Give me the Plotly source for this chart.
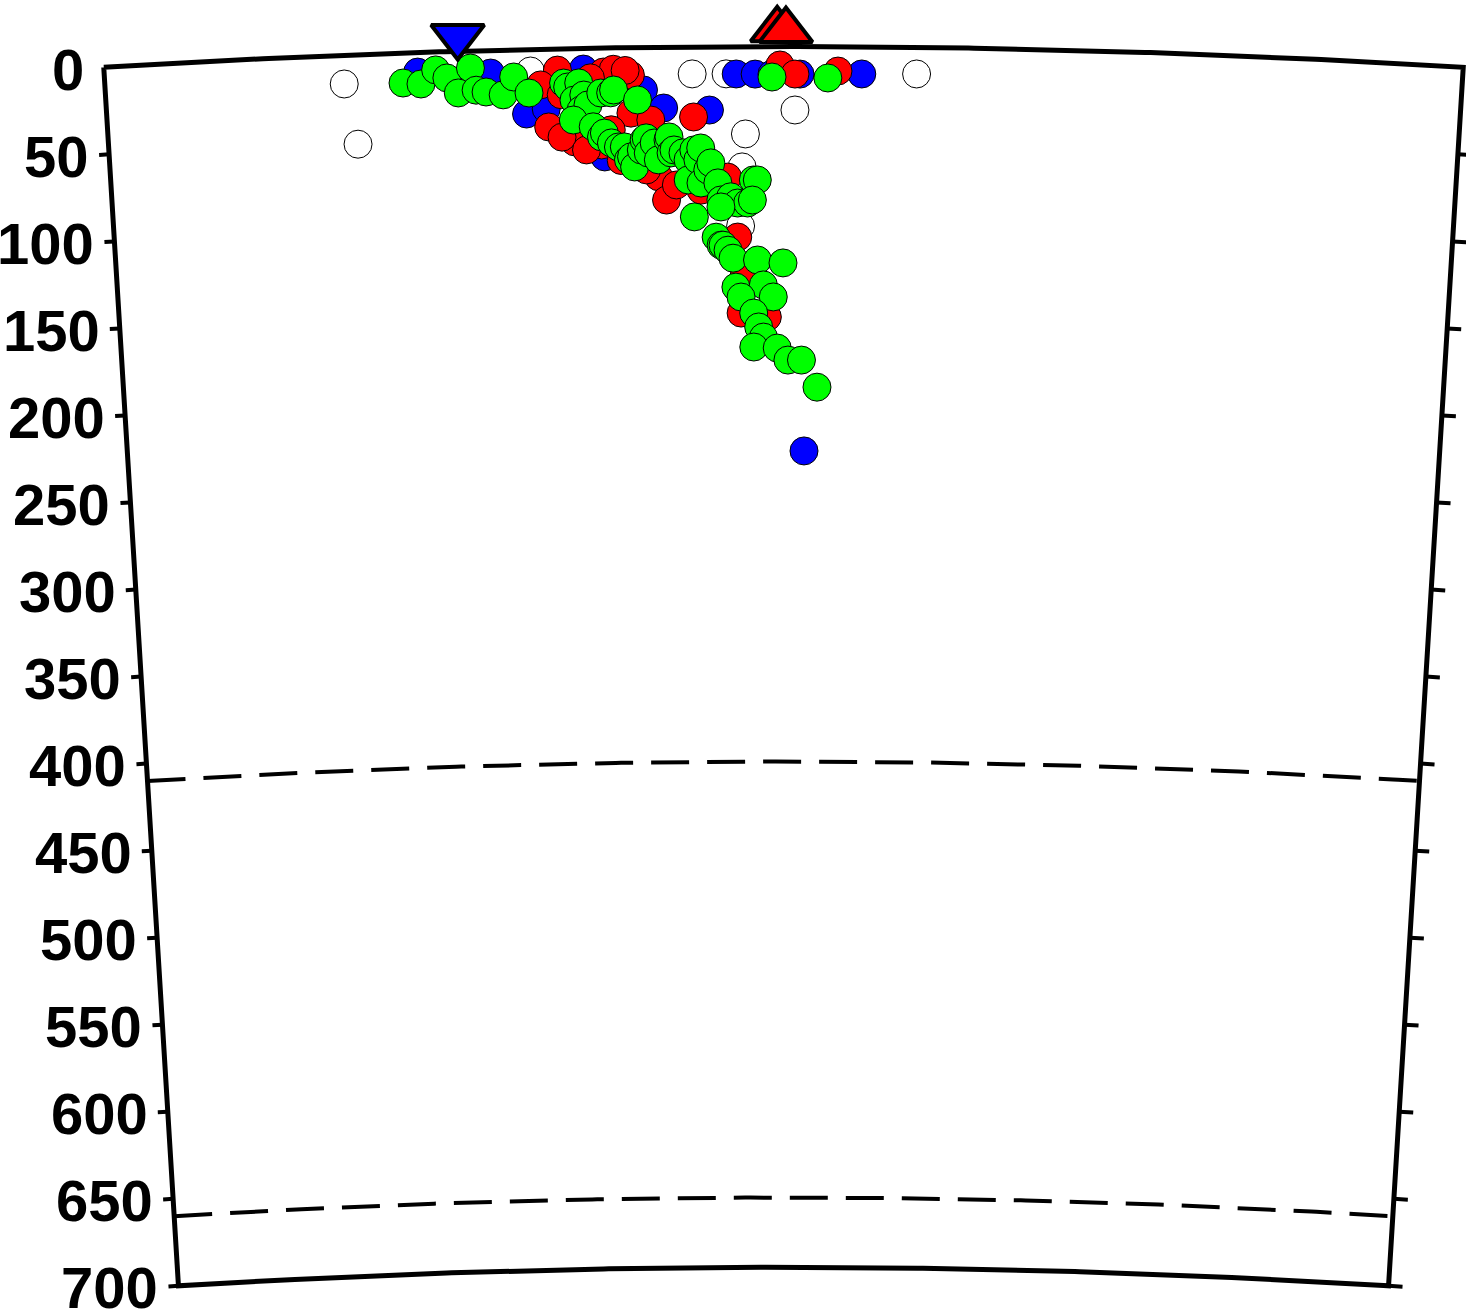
import numpy as np
import plotly.graph_objects as go

# ---------------- data ----------------
R_EARTH = 6371.0          # km
PROFILE_KM = 780.0        # length of section along surface (km)
MAX_DEPTH = 700.0         # km

depth_ticks = [0, 50, 100, 150, 200, 250, 300, 350, 400, 450, 500, 550, 600, 650, 700]
tick_labels = [str(d) for d in depth_ticks]
discontinuities = [410, 660]

white_dist = [137.4, 144.0, 244.6, 337.5, 357.0, 466.5, 396.6, 368.0, 366.0, 365.0]
white_depth = [16.5, 51.3, 12.4, 15.5, 15.6, 15.3, 36.4, 50.1, 69.0, 102.9]

blue_dist = [179.8, 221.7, 241.8, 253.2, 275.0, 286.5, 309.4, 320.9, 347.3, 362.8,
             373.7, 383.4, 399.5, 435.0, 402.2]
blue_depth = [11.2, 13.0, 37.0, 34.3, 11.9, 62.5, 24.4, 34.9, 36.3, 15.7,
              15.8, 15.8, 15.8, 15.6, 231.9]

red_dist = [260.1, 250.3, 254.4, 269.3, 284.8, 286.5, 292.2, 302.0, 302.0, 313.4,
            306.0, 317.5, 322.0, 338.1, 357.6, 388.0, 396.6, 421.3, 363.3, 366.8,
            380.5, 365.1, 279.0, 262.0, 276.0, 296.0, 310.6, 290.5, 327.8, 342.1,
            262.0, 299.0]
red_depth = [12.2, 20.5, 44.7, 53.6, 55.6, 13.8, 12.3, 15.8, 37.6, 41.7,
             68.5, 74.3, 87.7, 40.2, 74.8, 10.6, 15.8, 14.0, 109.2, 132.1,
             155.1, 152.8, 17.0, 50.7, 58.3, 64.7, 70.3, 47.0, 79.1, 82.2,
             26.4, 13.1]

green_dist = [171.2, 181.5, 190.2, 196.5, 202.8, 210.2, 213.1, 218.8, 228.6, 234.9,
              243.5, 263.5, 265.8, 272.2, 269.3, 275.0, 273.3, 277.3, 268.7, 284.8,
              290.5, 292.2, 305.9, 280.1, 284.8, 286.5, 290.5, 294.5, 297.9, 300.2,
              302.0, 303.7, 307.7, 309.4, 310.6, 311.7, 315.2, 317.5, 323.2, 323.8,
              324.9, 326.6, 331.8, 334.7, 334.7, 338.1, 340.4, 342.1, 342.1, 346.1,
              347.9, 351.9, 353.6, 359.3, 363.3, 369.1, 372.5, 374.8, 371.9, 338.1,
              350.7, 353.6, 354.7, 357.6, 360.5, 374.8, 389.7, 362.1, 378.2, 365.1,
              384.0, 372.5, 375.4, 378.2, 372.5, 386.3, 392.6, 400.6, 409.8, 383.4,
              415.5, 353.6]
green_depth = [17.2, 18.1, 10.3, 15.1, 23.9, 9.8, 22.6, 23.8, 25.7, 15.6,
               25.0, 19.7, 22.0, 19.8, 29.6, 26.8, 35.3, 32.5, 41.0, 25.8,
               25.8, 24.2, 30.1, 45.1, 51.0, 48.8, 54.5, 56.9, 56.9, 64.3,
               62.6, 68.5, 58.8, 53.1, 51.9, 60.6, 54.9, 64.6, 53.2, 51.5,
               60.7, 59.0, 60.7, 64.8, 76.3, 59.1, 64.8, 58.0, 78.1, 70.6,
               66.6, 78.1, 87.9, 86.1, 89.7, 89.7, 76.5, 76.5, 88.0, 97.5,
               109.2, 113.8, 113.8, 116.7, 121.3, 122.4, 124.1, 137.9, 136.7, 143.6,
               143.6, 152.8, 160.8, 166.6, 172.3, 172.9, 179.8, 179.8, 195.3, 17.5,
               18.0, 91.9]

station_blue_dist = [203.4]
station_blue_depth = [-8.5]
station_red_dist = [386.4, 391.4]
station_red_depth = [-9.6, -9.2]

# ---------------- layout constants ----------------
W, H = 1466, 1314
PX_PER_KM = 1.744
CX_PX, TOP_PX = 783.5, 46.5
TICK_LEFT_PX = 10
TICK_RIGHT_PX = 14


def proj(dist, depth):
    dist = np.asarray(dist, dtype=float)
    depth = np.asarray(depth, dtype=float)
    theta = (dist - PROFILE_KM / 2.0) / R_EARTH
    r = R_EARTH - depth
    return r * np.sin(theta), r * np.cos(theta)


fig = go.Figure()

# frame
s = np.linspace(0, PROFILE_KM, 240)
d = np.linspace(0, MAX_DEPTH, 60)
fd = np.concatenate([s, np.full_like(d, PROFILE_KM), s[::-1], np.zeros_like(d)])
fz = np.concatenate([np.zeros_like(s), d, np.full_like(s, MAX_DEPTH), d[::-1]])
fx, fy = proj(fd, fz)
fig.add_trace(go.Scatter(x=fx, y=fy, mode="lines",
                         line=dict(color="black", width=5), hoverinfo="skip"))

# discontinuities
for z in discontinuities:
    dx, dy = proj(s, np.full_like(s, z))
    fig.add_trace(go.Scatter(x=dx, y=dy, mode="lines",
                             line=dict(color="black", width=4, dash="38px,18px"),
                             hoverinfo="skip"))

# ticks (angular direction, outward)
tx, ty = [], []
for z in depth_ticks[1:]:
    kf = R_EARTH / (R_EARTH - z) / PX_PER_KM
    for a, b in [(0.0, -TICK_LEFT_PX * kf), (PROFILE_KM, PROFILE_KM + TICK_RIGHT_PX * kf)]:
        xx, yy = proj([a, b], [z, z])
        tx += list(xx) + [None]
        ty += list(yy) + [None]
fig.add_trace(go.Scatter(x=tx, y=ty, mode="lines",
                         line=dict(color="black", width=4), hoverinfo="skip"))

# events
def events(dist, depth, color):
    x, y = proj(dist, depth)
    fig.add_trace(go.Scatter(x=x, y=y, mode="markers",
                             marker=dict(size=28, color=color,
                                         line=dict(color="black", width=1))))

events(white_dist, white_depth, "white")
events(blue_dist, blue_depth, "#0000ff")
events(red_dist, red_depth, "#ff0000")
events(green_dist, green_depth, "#00ff00")

# stations
x, y = proj(station_red_dist, station_red_depth)
fig.add_trace(go.Scatter(x=x, y=y, mode="markers",
                         marker=dict(symbol="triangle-up", size=46, color="#ff0000",
                                     line=dict(color="black", width=4))))
x, y = proj(station_blue_dist, station_blue_depth)
fig.add_trace(go.Scatter(x=x, y=y, mode="markers",
                         marker=dict(symbol="triangle-down", size=46, color="#0000ff",
                                     line=dict(color="black", width=4))))

# tick labels
annotations = []
lx, ly = proj(np.zeros(len(depth_ticks)), depth_ticks)
for xx, yy, t in zip(lx, ly, tick_labels):
    annotations.append(dict(x=xx, y=yy, xref="x", yref="y", text=t, showarrow=False,
                            xanchor="right", yanchor="middle", xshift=-18, yshift=-2,
                            font=dict(family="Liberation Sans, Arial, sans-serif",
                                      size=58, color="black", weight="bold")))

x0 = (0 - CX_PX) / PX_PER_KM
x1 = (W - CX_PX) / PX_PER_KM
y1 = R_EARTH + TOP_PX / PX_PER_KM
y0 = R_EARTH - (H - TOP_PX) / PX_PER_KM

fig.update_layout(
    width=W, height=H,
    margin=dict(l=0, r=0, t=0, b=0),
    paper_bgcolor="white", plot_bgcolor="white",
    showlegend=False, hovermode=False,
    xaxis=dict(range=[x0, x1], visible=False, fixedrange=True),
    yaxis=dict(range=[y0, y1], visible=False, fixedrange=True),
    annotations=annotations,
)

fig.write_html("out.html", config={"displayModeBar": False},
               post_script="document.body.style.margin='0';document.body.style.overflow='hidden';")
